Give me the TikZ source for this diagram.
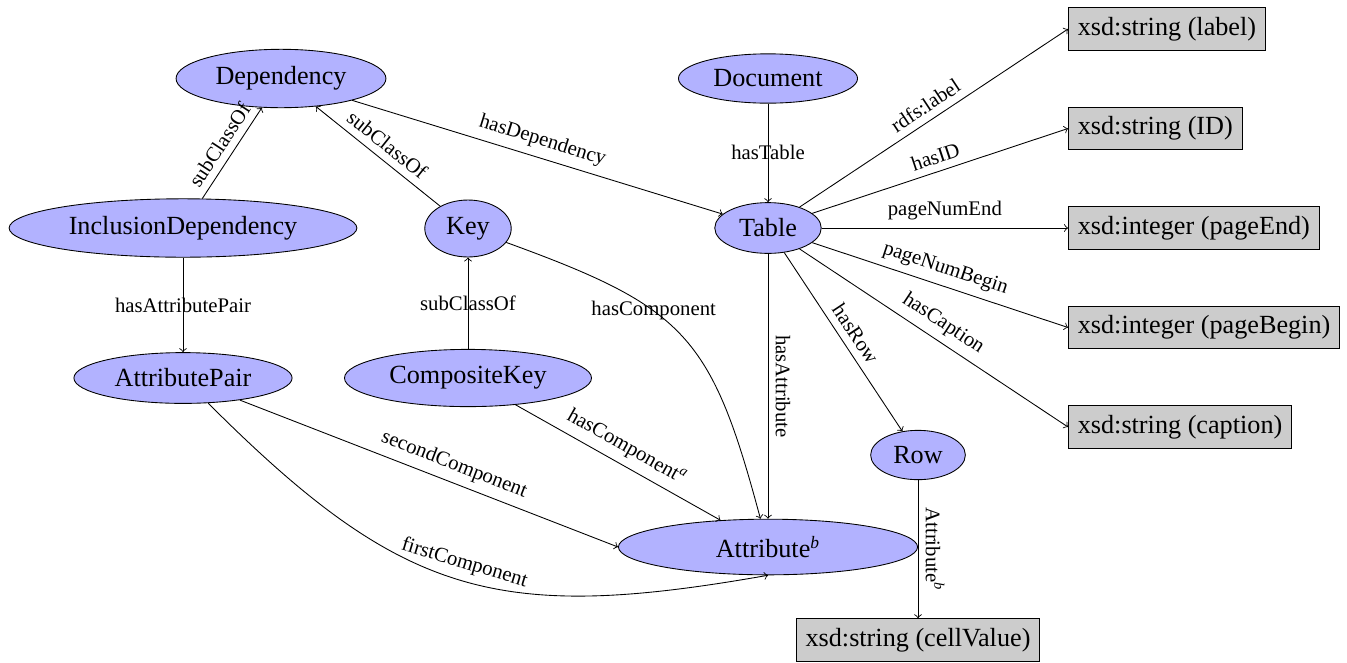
\documentclass[tikz,border=0pt]{standalone}
\usepackage{fontspec}
\setmainfont{Liberation Serif}
\usepackage{tikz}
\usetikzlibrary{shapes.geometric, positioning}
\usepackage{xcolor}

\tikzset{
    class/.style={ellipse, draw, fill=blue!30, inner sep=4pt, font=\fontsize{12}{14}\selectfont},
    literal/.style={rectangle, draw, fill=gray!40, inner sep=4.3pt, font=\fontsize{12}{14}\selectfont},
    lbl/.style={font=\fontsize{9.5}{11}\selectfont},
}

\begin{document}
\begin{tikzpicture}[x=0.458pt, y=0.458pt, >=to]
        \useasboundingbox (0,0) rectangle (1347,-662); % page frame

        % classes (ellipses)
        \node[class] (dep) at (281,-78.5) {Dependency};
        \node[class] (doc) at (768,-78.5) {Document};
        \node[class] (incl) at (183,-228) {InclusionDependency};
        \node[class] (key) at (468,-228.5) {Key};
        \node[class] (tab) at (768,-228) {Table};
        \node[class] (pair) at (183,-378) {AttributePair};
        \node[class] (ckey) at (468,-378) {CompositeKey};
        \node[class] (row) at (918,-455) {Row};
        \node[class, minimum width=137pt] (attr) at (768,-547) {Attribute\textsuperscript{\textit{b}}};

        % literals (grey boxes)
        \node[literal, anchor=west] (slabel) at (1068,-29) {xsd:string (label)};
        \node[literal, anchor=west] (sid) at (1068,-128.5) {xsd:string (ID)};
        \node[literal, anchor=west] (iend) at (1068,-228) {xsd:integer (pageEnd)};
        \node[literal, anchor=west] (ibegin) at (1068,-327.5) {xsd:integer (pageBegin)};
        \node[literal, anchor=west] (scap) at (1068,-427) {xsd:string (caption)};
        \node[literal] (cell) at (918,-640) {xsd:string (cellValue)};

        % subclass links
        \draw[->] (incl) -- node[lbl, sloped, above] {subClassOf} (dep);
        \draw[->] (key) -- node[lbl, sloped, above] {subClassOf} (dep);
        \draw[->] (ckey) -- node[lbl] {subClassOf} (key);

        % properties
        \draw[->] (dep) -- node[lbl, sloped, above] {hasDependency} (tab);
        \draw[->] (doc) -- node[lbl] {hasTable} (tab);
        \draw[->] (incl) -- node[lbl] {hasAttributePair} (pair);
        \draw[->] (key) to[out=-20, in=105, looseness=1.3] node[lbl, pos=0.38] {hasComponent} (attr);
        \draw[->] (ckey) -- node[lbl, sloped, above] {hasComponent\textsuperscript{\textit{a}}} (attr);
        \draw[->] (pair) -- node[lbl, sloped, above, pos=0.55] {secondComponent} (attr.west);
        \draw[->] (pair) to[out=-45, in=190, looseness=1.2] node[lbl, sloped, above] {firstComponent} (attr.south);
        \draw[->] (tab) -- node[lbl, sloped, above] {hasAttribute} (attr);
        \draw[->] (tab) -- node[lbl, sloped, above] {hasRow} (row);
        \draw[->] (row) -- node[lbl, sloped, above] {Attribute\textsuperscript{\textit{b}}} (cell);

        % datatype properties of the table
        \draw[->] (tab) -- node[lbl, sloped, above] {rdfs:label} (slabel.west);
        \draw[->] (tab) -- node[lbl, sloped, above] {hasID} (sid.west);
        \draw[->] (tab) -- node[lbl, above] {pageNumEnd} (iend.west);
        \draw[->] (tab) -- node[lbl, sloped, above] {pageNumBegin} (ibegin.west);
        \draw[->] (tab) -- node[lbl, sloped, above] {hasCaption} (scap.west);
    \end{tikzpicture}
\end{document}
